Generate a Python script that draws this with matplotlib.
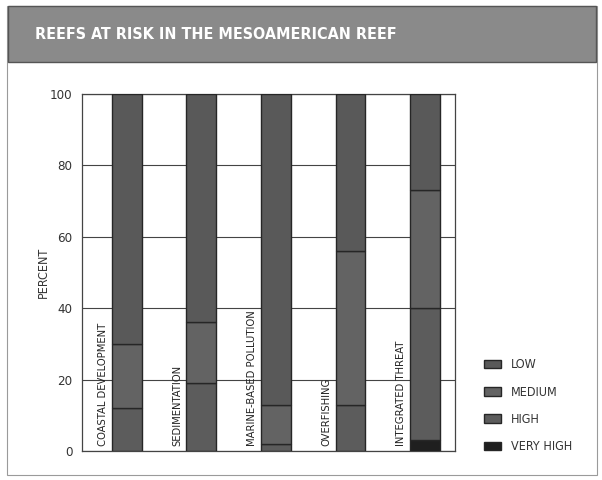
import matplotlib
matplotlib.use("Agg")
import matplotlib.pyplot as plt
from matplotlib.patches import Rectangle
import numpy as np

categories = ["COASTAL DEVELOPMENT", "SEDIMENTATION", "MARINE-BASED POLLUTION",
              "OVERFISHING", "INTEGRATED THREAT"]
very_high = [0, 0, 0, 0, 3]
high = [12, 19, 2, 13, 37]
medium = [18, 17, 11, 43, 33]
low = [70, 64, 87, 44, 27]
series_names = ["LOW", "MEDIUM", "HIGH", "VERY HIGH"]
yticks = [0, 20, 40, 60, 80, 100]
title = "REEFS AT RISK IN THE MESOAMERICAN REEF"

plt.rcParams['font.family'] = ['DejaVu Sans']
plt.rcParams['font.stretch'] = 'condensed'

fig = plt.figure(figsize=(6.02, 4.8), dpi=100)
fig.patch.set_facecolor('white')

# outer frame and banner
fig.patches.append(Rectangle((0.012, 0.01), 0.98, 0.978, transform=fig.transFigure,
                             fill=False, edgecolor='#9a9a9a', linewidth=0.8, zorder=0))
fig.patches.append(Rectangle((0.014, 0.871), 0.976, 0.117, transform=fig.transFigure,
                             facecolor='#8a8a8a', edgecolor='#555555', linewidth=1.0, zorder=1))
fig.text(0.058, 0.929, title, color='white', fontsize=11.5, fontweight='bold',
         fontstretch='condensed', va='center', ha='left')

ax = fig.add_axes([0.1362, 0.0604, 0.6196, 0.7438])
x = np.arange(len(categories)) + 0.1
w = 0.4
colors = {"VERY HIGH": '#1f1f1f', "HIGH": '#5c5c5c', "MEDIUM": '#636363', "LOW": '#595959'}
vals = {"VERY HIGH": very_high, "HIGH": high, "MEDIUM": medium, "LOW": low}
bottom = np.zeros(len(categories))
for name in ["VERY HIGH", "HIGH", "MEDIUM", "LOW"]:
    v = np.array(vals[name], dtype=float)
    ax.bar(x, v, w, bottom=bottom, color=colors[name], edgecolor='#262626',
           linewidth=1.0, zorder=3, label=name)
    bottom += v

for i, c in enumerate(categories):
    ax.text(i - 0.22, 1.5, c, rotation=90, ha='center', va='bottom',
            fontsize=8, fontstretch='condensed', color='#222222', zorder=4)

ax.set_xlim(-0.5, 4.5)
ax.set_ylim(0, 100)
ax.set_yticks(yticks)
ax.set_yticklabels([str(t) for t in yticks], fontsize=9.5, color='#333333',
                   fontstretch='condensed')
ax.set_xticks([])
ax.tick_params(axis='y', length=0, pad=7)
ax.yaxis.grid(True, color='#444444', linewidth=0.8, zorder=0)
ax.set_axisbelow(True)
for s in ax.spines.values():
    s.set_color('#444444')
    s.set_linewidth(0.9)
ax.set_ylabel("PERCENT", fontsize=9, color='#333333', labelpad=0,
              fontstretch='condensed')

handles, labels = ax.get_legend_handles_labels()
order = [labels.index(n) for n in series_names]
leg = fig.legend([handles[k] for k in order], [labels[k] for k in order],
                 loc='upper left', bbox_to_anchor=(0.785, 0.277), frameon=False,
                 prop={'size': 9, 'stretch': 'condensed'},
                 handlelength=1.4, handleheight=0.7,
                 labelspacing=1.15, handletextpad=0.8)
for t in leg.get_texts():
    t.set_color('#333333')

fig.savefig("out.png", dpi=100, facecolor='white')
